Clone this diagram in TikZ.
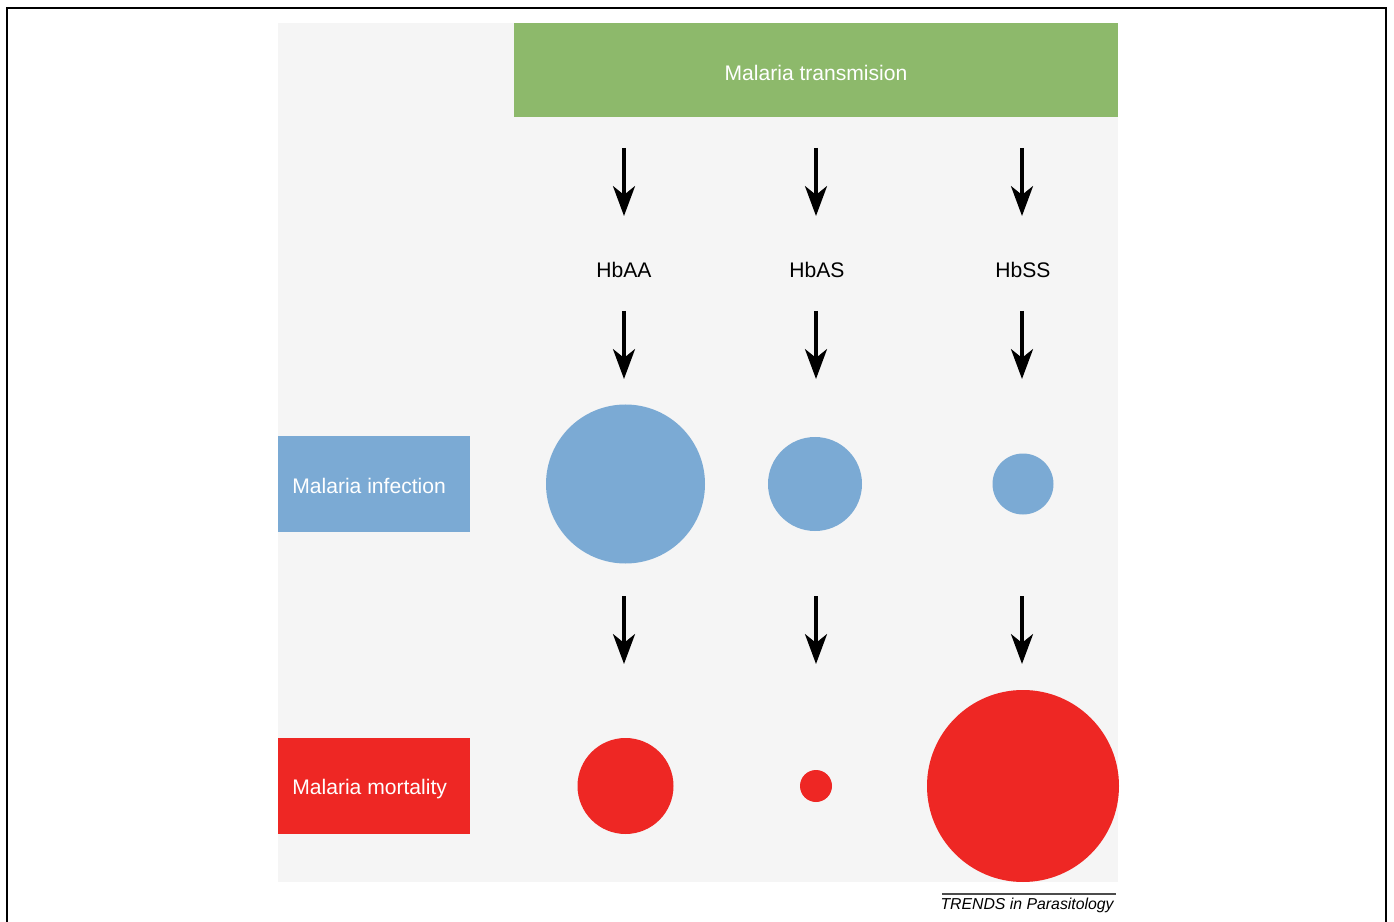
\documentclass[tikz,border=0pt]{standalone}
\usepackage{fontspec}
\setmainfont{Liberation Sans}
\usetikzlibrary{arrows.meta}
\definecolor{bggray}{HTML}{F5F5F5}
\definecolor{transgreen}{HTML}{8DB96B}
\definecolor{infblue}{HTML}{7BAAD4}
\definecolor{mortred}{HTML}{EE2724}
\tikzset{
	arr/.style={line width=2.3pt,-{Stealth[length=17pt,width=12.5pt,inset=5pt]}},
	lab/.style={font=\fontsize{12}{14}\selectfont},
	bub/.style={circle,inner sep=0pt,draw=none},
}
\begin{document}
\begin{tikzpicture}[x=0.02cm,y=-0.02cm]
				\useasboundingbox (0,0) rectangle (1394,922);
				%khung
				\draw[line width=1.4pt] (7,922)--(7,8)--(1386,8)--(1386,922);
				\fill[bggray] (278,23) rectangle (1118,882);
				%hop mau
				\node[fill=transgreen,minimum width=604*0.02cm,minimum height=94*0.02cm,inner sep=0pt,anchor=north west] (transbox) at (514,23) {};
				\node[anchor=base,text=white,lab,inner sep=0pt] (trans) at (816,81) {Malaria transmision};
				\node[fill=infblue,minimum width=192*0.02cm,minimum height=96*0.02cm,inner sep=0pt,anchor=north west] (infbox) at (278,436) {};
				\node[anchor=base west,text=white,lab,inner sep=0pt] (inf) at (292,493) {Malaria infection};
				\node[fill=mortred,minimum width=192*0.02cm,minimum height=96*0.02cm,inner sep=0pt,anchor=north west] (mortbox) at (278,738) {};
				\node[anchor=base west,text=white,lab,inner sep=0pt] (mort) at (292,794) {Malaria mortality};
				%kieu gen
				\node[lab,anchor=base,inner sep=0pt] (hbAA) at (624,278) {HbAA};
				\node[lab,anchor=base,inner sep=0pt] (hbAS) at (817,278) {HbAS};
				\node[lab,anchor=base,inner sep=0pt] (hbSS) at (1023,278) {HbSS};
				%vong tron
				\node[bub,fill=infblue,minimum size=159*0.02cm] (infAA) at (625.5,484) {};
				\node[bub,fill=infblue,minimum size=94*0.02cm] (infAS) at (815,484) {};
				\node[bub,fill=infblue,minimum size=61*0.02cm] (infSS) at (1023,484) {};
				\node[bub,fill=mortred,minimum size=96*0.02cm] (mortAA) at (625.5,786) {};
				\node[bub,fill=mortred,minimum size=32*0.02cm] (mortAS) at (816,786) {};
				\node[bub,fill=mortred,minimum size=192*0.02cm] (mortSS) at (1023,786) {};
				%mui ten
				\coordinate (a1) at (624,148); \coordinate (a2) at (624,216);
				\coordinate (b1) at (816,148); \coordinate (b2) at (816,216);
				\coordinate (c1) at (1022,148); \coordinate (c2) at (1022,216);
				\coordinate (a3) at (624,311); \coordinate (a4) at (624,379);
				\coordinate (b3) at (816,311); \coordinate (b4) at (816,379);
				\coordinate (c3) at (1022,311); \coordinate (c4) at (1022,379);
				\coordinate (a5) at (624,596); \coordinate (a6) at (624,664);
				\coordinate (b5) at (816,596); \coordinate (b6) at (816,664);
				\coordinate (c5) at (1022,596); \coordinate (c6) at (1022,664);
				\draw[arr] (a1)--(a2); \draw[arr] (b1)--(b2); \draw[arr] (c1)--(c2);
				\draw[arr] (a3)--(a4); \draw[arr] (b3)--(b4); \draw[arr] (c3)--(c4);
				\draw[arr] (a5)--(a6); \draw[arr] (b5)--(b6); \draw[arr] (c5)--(c6);
				%nguon
				\coordinate (s1) at (942,894); \coordinate (s2) at (1116,894);
				\draw[line width=0.6pt,black!70] (s1)--(s2);
				\node[anchor=base east,font=\fontsize{9}{10}\selectfont\itshape,inner sep=0pt] (src) at (1114,909) {TRENDS in Parasitology};
			\end{tikzpicture}
\end{document}
